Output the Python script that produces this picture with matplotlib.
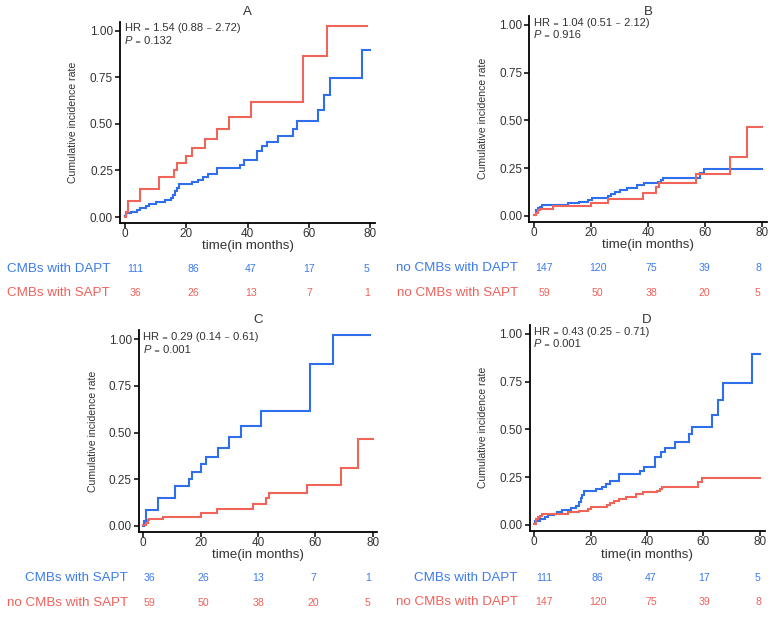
import matplotlib
matplotlib.use("Agg")
import matplotlib.pyplot as plt

W, H = 778, 623
RED = "#F1645A"
BLUE = "#2F6FEB"
TRED = "#F0605A"
TBLUE = "#3C7BEE"
GREY = "#333333"
FONT = ["Liberation Sans", "DejaVu Sans"]
plt.rcParams["font.family"] = FONT

# ---- data: cumulative incidence step curves ----
cmb_dapt_t = [0, 0.5, 2, 4, 5, 7, 8, 10, 13, 15, 15.8, 16.5, 17, 17.8, 22, 24, 25.6, 27, 30,
              37.5, 39, 43, 44.8, 46.2, 50, 55, 56, 63, 65, 67, 77.3, 80]
cmb_dapt_y = [0.005, 0.02, 0.03, 0.04, 0.05, 0.06, 0.07, 0.08, 0.09, 0.10, 0.12, 0.14, 0.155, 0.18,
              0.19, 0.20, 0.215, 0.23, 0.265, 0.28, 0.305, 0.355, 0.38, 0.405, 0.435, 0.475,
              0.515, 0.575, 0.655, 0.745, 0.895, 0.895]

cmb_sapt_t = [0, 0.3, 1, 5, 11, 16, 17, 20, 22, 26, 30, 34, 41, 58, 66, 79]
cmb_sapt_y = [0, 0.025, 0.085, 0.15, 0.215, 0.25, 0.29, 0.33, 0.37, 0.42, 0.475, 0.535,
              0.615, 0.865, 1.025, 1.025]

nocmb_dapt_t = [0, 0.8, 1.4, 2.2, 2.8, 6.7, 12, 15.8, 19, 20.2, 25.8, 26.9, 28.4, 30.1, 32.5,
                36, 38.6, 43.6, 44.5, 45.3, 58.2, 59.5, 80]
nocmb_dapt_y = [0.005, 0.03, 0.04, 0.045, 0.055, 0.06, 0.07, 0.075, 0.085, 0.095, 0.105, 0.115,
                0.125, 0.135, 0.145, 0.16, 0.17, 0.18, 0.19, 0.20, 0.225, 0.245, 0.245]

nocmb_sapt_t = [0, 0.8, 1.5, 2, 6.8, 20, 25.8, 38.2, 42.8, 43.8, 57, 68.8, 74.8, 80]
nocmb_sapt_y = [0.005, 0.018, 0.03, 0.035, 0.05, 0.07, 0.09, 0.12, 0.15, 0.175, 0.22, 0.31,
                0.465, 0.465]

# ---- risk tables ----
risk_times = [0, 20, 40, 60, 80]
risk_cmb_dapt = [111, 86, 47, 17, 5]
risk_cmb_sapt = [36, 26, 13, 7, 1]
risk_nocmb_dapt = [147, 120, 75, 39, 8]
risk_nocmb_sapt = [59, 50, 38, 20, 5]

x_ticks = [0, 20, 40, 60, 80]
y_ticks = [0.00, 0.25, 0.50, 0.75, 1.00]
y_ticklabels = ["0.00", "0.25", "0.50", "0.75", "1.00"]

panels = [
    dict(title="A", hr="HR \u208c 1.54 (0.88 \u208b 2.72)", p="\u208c 0.132",
         curves=[(cmb_dapt_t, cmb_dapt_y, BLUE), (cmb_sapt_t, cmb_sapt_y, RED)],
         rows=[("CMBs with DAPT", risk_cmb_dapt, TBLUE), ("CMBs with SAPT", risk_cmb_sapt, TRED)],
         ax_px=(120, 21.7, 375, 222.7), ylab_x=73, xlab_y=246, title_y=11.7,
         tab_px=(135, 367), tab_rows=(269, 293), lab_right=110),
    dict(title="B", hr="HR \u208c 1.04 (0.51 \u208b 2.12)", p="\u208c 0.916",
         curves=[(nocmb_dapt_t, nocmb_dapt_y, BLUE), (nocmb_sapt_t, nocmb_sapt_y, RED)],
         rows=[("no CMBs with DAPT", risk_nocmb_dapt, TBLUE), ("no CMBs with SAPT", risk_nocmb_sapt, TRED)],
         ax_px=(529.4, 15.8, 766.6, 221.7), ylab_x=483, xlab_y=245, title_y=11.7,
         tab_px=(544, 758), tab_rows=(268, 293), lab_right=518),
    dict(title="C", hr="HR \u208c 0.29 (0.14 \u208b 0.61)", p="\u208c 0.001",
         curves=[(cmb_sapt_t, cmb_sapt_y, BLUE), (nocmb_sapt_t, nocmb_sapt_y, RED)],
         rows=[("CMBs with SAPT", risk_cmb_sapt, TBLUE), ("no CMBs with SAPT", risk_nocmb_sapt, TRED)],
         ax_px=(138.7, 330.3, 377.3, 531.6), ylab_x=93, xlab_y=555, title_y=320,
         tab_px=(149, 368), tab_rows=(578, 603), lab_right=128),
    dict(title="D", hr="HR \u208c 0.43 (0.25 \u208b 0.71)", p="\u208c 0.001",
         curves=[(cmb_dapt_t, cmb_dapt_y, BLUE), (nocmb_dapt_t, nocmb_dapt_y, RED)],
         rows=[("CMBs with DAPT", risk_cmb_dapt, TBLUE), ("no CMBs with DAPT", risk_nocmb_dapt, TRED)],
         ax_px=(529.5, 324.8, 764.5, 530.7), ylab_x=483, xlab_y=555, title_y=320,
         tab_px=(544, 758), tab_rows=(578, 602), lab_right=518),
]

fig = plt.figure(figsize=(W / 100, H / 100), dpi=100)


def fx(px):
    return px / W


def fy(py):
    return 1 - py / H


for p in panels:
    l, t, r, b = p["ax_px"]
    ax = fig.add_axes([fx(l), fy(b), fx(r - l), (b - t) / H])
    ax.set_facecolor("none")
    for tt, yy, c in p["curves"]:
        ax.step(tt, yy, where="post", color=c, lw=1.5, solid_joinstyle="miter")
    ax.set_xlim(-1.6, 81.6)
    ax.set_ylim(-0.03, 1.048)
    ax.set_xticks(x_ticks)
    ax.set_yticks(y_ticks)
    ax.set_yticklabels(y_ticklabels)
    for s in ("top", "right"):
        ax.spines[s].set_visible(False)
    for s in ("left", "bottom"):
        ax.spines[s].set_linewidth(1.3)
        ax.spines[s].set_color("black")
    ax.tick_params(direction="out", length=3.5, width=1.1, color="black",
                   labelsize=8.5, labelcolor=GREY, pad=1.5)
    ax.tick_params(axis="x", pad=0.6)
    # HR and P annotations
    ax.text(0, 1.012, p["hr"], ha="left", va="center", fontsize=8.0, color=GREY)
    pt = ax.text(0, 0.945, "P", ha="left", va="center", fontsize=8.0, color=GREY,
                 style="italic")
    ax.annotate(" " + p["p"], xy=(1, 0.5), xycoords=pt, ha="left", va="center",
                fontsize=8.0, color=GREY)
    # labels and title
    cx = (l + r) / 2
    fig.text(fx(p["ylab_x"]), fy((t + b) / 2), "Cumulative incidence rate", rotation=90,
             ha="center", va="center", fontsize=7.6, color=GREY)
    fig.text(fx(cx), fy(p["xlab_y"]), "time(in months)", ha="center", va="center",
             fontsize=9.6, color=GREY)
    fig.text(fx(cx), fy(p["title_y"]), p["title"], ha="center", va="center",
             fontsize=9.5, color=GREY)
    # risk table
    x0, x1 = p["tab_px"]
    r1, r2 = p["tab_rows"]
    top = r1 - (r2 - r1) / 2
    bot = r2 + (r2 - r1) / 2
    tax = fig.add_axes([fx(x0), fy(bot), fx(x1 - x0), (bot - top) / H])
    tax.set_xlim(0, 80)
    tax.set_ylim(0, 2)
    tax.axis("off")
    for i, (lab, vals, c) in enumerate(p["rows"]):
        yv = 1.5 - i
        for tv, v in zip(risk_times, vals):
            tax.text(tv, yv, str(v), ha="center", va="center", fontsize=7.6, color=c)
        fig.text(fx(p["lab_right"]), fy(r1 + i * (r2 - r1)), lab, ha="right", va="center",
                 fontsize=9.6, color=c)

fig.savefig("out.png", dpi=100)
